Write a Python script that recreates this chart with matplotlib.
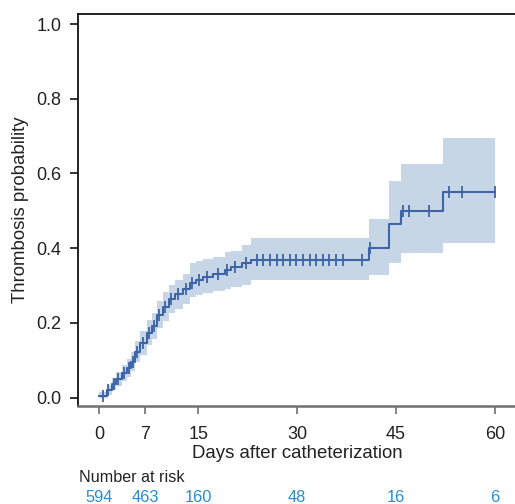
import matplotlib
matplotlib.use("Agg")
import matplotlib.pyplot as plt
from matplotlib.transforms import blended_transform_factory

plt.rcParams['font.family'] = ['Liberation Sans', 'DejaVu Sans']

# Kaplan-Meier style cumulative incidence (step times, estimate, CI)
step_days = [0, 1.1, 1.9, 2.6, 3.4, 4.2, 4.8, 5.4, 6.2, 7.2, 8.0, 8.7, 9.7, 10.5,
             11.5, 12.7, 13.7, 14.7, 15.8, 17.3, 19.0, 20.0, 21.6, 23.0, 40.9,
             44.0, 45.8, 52.1]
prob = [0.004, 0.020, 0.035, 0.049, 0.065, 0.078, 0.096, 0.123, 0.145, 0.172,
        0.191, 0.221, 0.243, 0.263, 0.276, 0.290, 0.306, 0.315, 0.322, 0.330,
        0.341, 0.350, 0.359, 0.368, 0.400, 0.464, 0.500, 0.549]
ci_low = [0.000, 0.008, 0.020, 0.032, 0.045, 0.056, 0.072, 0.096, 0.115, 0.140,
          0.157, 0.185, 0.205, 0.226, 0.238, 0.250, 0.270, 0.274, 0.280, 0.284,
          0.290, 0.295, 0.300, 0.315, 0.328, 0.361, 0.386, 0.414]
ci_high = [0.014, 0.034, 0.052, 0.068, 0.087, 0.102, 0.122, 0.152, 0.177, 0.207,
           0.227, 0.259, 0.282, 0.300, 0.315, 0.330, 0.359, 0.365, 0.372, 0.377,
           0.390, 0.392, 0.408, 0.426, 0.478, 0.580, 0.625, 0.696]
end_day = 60.0

# censoring marks
censor_days = [0.5, 1.4, 2.2, 2.9, 3.7, 4.45, 5.05, 5.75, 6.6, 7.55, 8.3, 9.1,
               10.0, 10.9, 12.0, 13.1, 14.1, 15.1, 16.4, 18.0, 19.4, 20.6, 22.2,
               23.9, 24.9, 25.9, 26.9, 27.9, 28.9, 29.9, 30.9, 31.9, 32.9, 33.9,
               34.9, 35.9, 36.9, 39.9, 41.0, 46.0, 46.9, 50.0, 53.0, 55.0, 60.0]

risk_days = [0, 7, 15, 30, 45, 60]
risk_counts = [594, 463, 160, 48, 16, 6]

xticks = [0, 7, 15, 30, 45, 60]
yticks = [0.0, 0.2, 0.4, 0.6, 0.8, 1.0]

line_col = '#3c64a6'
band_col = '#c6d6e7'
text_col = '#222222'
risk_col = '#2a8ccf'

fig = plt.figure(figsize=(5.15, 5.04), dpi=100)
ax = fig.add_axes([0.152, 0.1954, 0.852, 0.7768])

xs = step_days + [end_day]
ax.fill_between(xs, ci_low + [ci_low[-1]], ci_high + [ci_high[-1]],
                step='post', color=band_col, linewidth=0, zorder=1)
ax.plot(xs, prob + [prob[-1]], drawstyle='steps-post', color=line_col,
        linewidth=1.5, zorder=2)


def value_at(d):
    v = prob[0]
    for t, p in zip(step_days, prob):
        if d >= t:
            v = p
    return v


cy = [value_at(d) for d in censor_days]
ax.plot(censor_days, cy, linestyle='none', marker='|', markersize=9,
        markeredgewidth=1.3, color=line_col, zorder=3)

ax.set_xlim(-3.18, 63.35)
ax.set_ylim(-0.0214, 1.0268)
ax.set_xticks(xticks)
ax.set_xticklabels([str(v) for v in xticks])
ax.set_yticks(yticks)
ax.set_yticklabels([f'{v:.1f}' for v in yticks])

for s in ['left', 'top']:
    ax.spines[s].set_color('#111111')
    ax.spines[s].set_linewidth(1.3)
ax.spines['right'].set_visible(False)
ax.spines['bottom'].set_color('#707070')
ax.spines['bottom'].set_linewidth(1.8)

ax.tick_params(axis='x', direction='out', length=6, width=1.2, color='#707070',
               labelsize=13, labelcolor=text_col, pad=9)
ax.tick_params(axis='y', direction='out', length=6, width=1.2, color='#111111',
               labelsize=13, labelcolor=text_col, pad=6)

ax.set_xlabel('Days after catheterization', fontsize=13.4, color=text_col)
ax.xaxis.set_label_coords(0.5, -0.102)
ax.set_ylabel('Thrombosis probability', fontsize=13.4, color=text_col)
ax.yaxis.set_label_coords(-0.112, 0.5)

tr = blended_transform_factory(ax.transData, fig.transFigure)
fig.text(0.153, 1 - 477.5 / 504, 'Number at risk', fontsize=11.6, color=text_col,
         ha='left', va='center')
for d, n in zip(risk_days, risk_counts):
    ax.text(d, 1 - 497 / 504, str(n), transform=tr, fontsize=11.8,
            color=risk_col, ha='center', va='center', clip_on=False)

fig.savefig('out.png', dpi=100)
